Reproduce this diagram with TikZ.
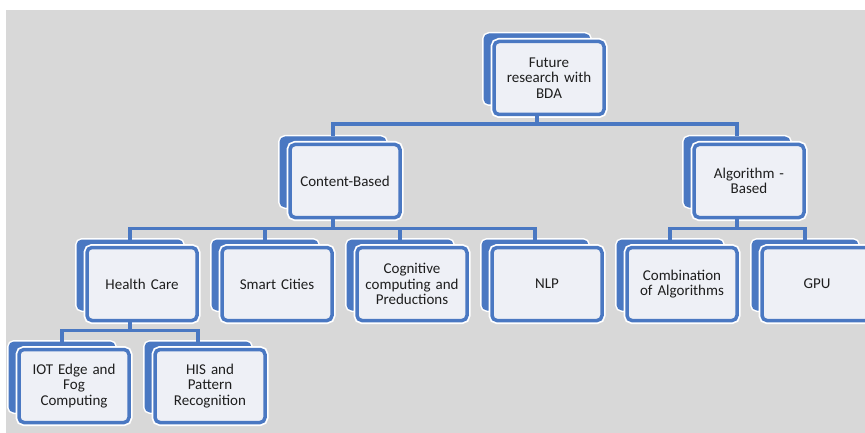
\documentclass[tikz,border=0pt]{standalone}
\usepackage{fontspec}
\setmainfont{Carlito}
\usetikzlibrary{positioning}
\definecolor{bdablue}{HTML}{4A78C2}
\definecolor{bdafill}{HTML}{EEF0F6}
\definecolor{bdagray}{HTML}{D8D8D8}
\definecolor{bdatext}{HTML}{1E1E1E}
\begin{document}
\begin{tikzpicture}[x=1pt, y=-1pt,
    backbox/.style={rectangle, rounded corners=5pt, minimum width=106pt, minimum height=70pt,
        fill=bdablue, draw=bdablue, line width=1pt, preaction={draw=white, line width=4pt}},
    frontbox/.style={rectangle, rounded corners=5pt, minimum width=110pt, minimum height=73pt,
        text width=102pt, align=center, fill=bdafill, draw=bdablue, line width=3.5pt,
        preaction={draw=white, line width=7pt}, text=bdatext,
        font=\fontsize{15pt}{15.5pt}\selectfont},
    link/.style={draw=bdablue, line width=3.5pt}]
    \useasboundingbox (0,0) rectangle (865,433);
    \fill[white] (0,0) rectangle (865,433);
    \fill[bdagray] (6,10) rectangle (865,433);
    \begin{scope}
    \clip (6,10) rectangle (865,433);

    % top level
    \node (root-b) [backbox] at (537,69) {};
    \node (root) [frontbox] at ([shift={(12,9)}]root-b) {Future\\research with\\BDA};

    % second level
    \node (cb-b) [backbox] at (333,172) {};
    \node (cb) [frontbox] at ([shift={(12,9)}]cb-b) {Content-Based};
    \node (ab-b) [backbox] at (737,172) {};
    \node (ab) [frontbox] at ([shift={(12,9)}]ab-b) {Algorithm -\\Based};

    % third level
    \node (hc-b) [backbox] at (130,275) {};
    \node (hc) [frontbox] at ([shift={(12,9)}]hc-b) {Health Care};
    \node (sc-b) [backbox] at (265,275) {};
    \node (sc) [frontbox] at ([shift={(12,9)}]sc-b) {Smart Cities};
    \node (cog-b) [backbox] at (400,275) {};
    \node (cog) [frontbox] at ([shift={(12,9)}]cog-b) {Cognitive\\computing and\\Preductions};
    \node (nlp-b) [backbox] at (535,275) {};
    \node (nlp) [frontbox] at ([shift={(12,9)}]nlp-b) {NLP};
    \node (comb-b) [backbox] at (670,275) {};
    \node (comb) [frontbox] at ([shift={(12,9)}]comb-b) {Combination\\of Algorithms};
    \node (gpu-b) [backbox] at (805,275) {};
    \node (gpu) [frontbox] at ([shift={(12,9)}]gpu-b) {GPU};

    % fourth level
    \node (iot-b) [backbox] at (62,377) {};
    \node (iot) [frontbox] at ([shift={(12,9)}]iot-b) {IOT Edge and\\Fog\\Computing};
    \node (his-b) [backbox] at (198,377) {};
    \node (his) [frontbox] at ([shift={(12,9)}]his-b) {HIS and\\Pattern\\Recognition};

    % connectors
    \foreach \child in {cb, ab}
        \draw[link] (root.south -| root-b) -- ++(0,8) -| (\child-b.north);
    \foreach \child in {hc, sc, cog, nlp}
        \draw[link] (cb.south -| cb-b) -- ++(0,9) -| (\child-b.north);
    \foreach \child in {comb, gpu}
        \draw[link] (ab.south -| ab-b) -- ++(0,9) -| (\child-b.north);
    \foreach \child in {iot, his}
        \draw[link] (hc.south -| hc-b) -- ++(0,8) -| (\child-b.north);
    \end{scope}
\end{tikzpicture}
\end{document}
